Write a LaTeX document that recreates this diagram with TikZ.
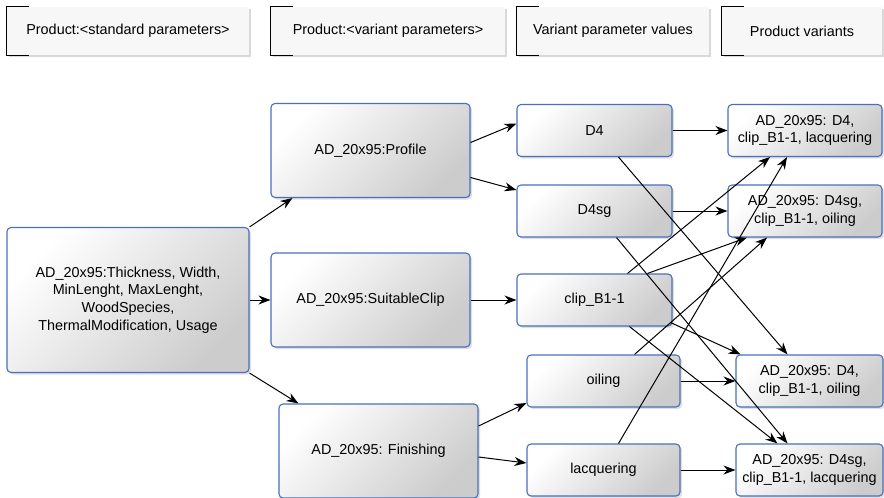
\documentclass[tikz,border=0pt]{standalone}
\usepackage{fontspec}
\setmainfont{Liberation Sans}
\usetikzlibrary{arrows.meta, shadows}
\definecolor{boxblue}{RGB}{72,112,190}
\tikzset{
  head/.style={fill=black!3, drop shadow={shadow xshift=2pt, shadow yshift=-2pt, opacity=0.3},
    minimum height=48pt, inner sep=2pt},
  box/.style={draw=boxblue, line width=1.1pt, rounded corners=4pt, top color=white,
    bottom color=black!20, shading angle=45, align=center, inner sep=2pt,
    drop shadow={shadow xshift=2pt, shadow yshift=-2pt, opacity=0.25}},
  mid/.style={box, minimum width=199pt, minimum height=94pt},
  val/.style={box, minimum width=155pt, minimum height=52pt},
  var/.style={box, minimum width=#1, minimum height=52pt},
  arr/.style={-{Stealth[length=12pt, width=9pt]}, line width=1pt},
}

\begin{document}
\begin{tikzpicture}[x=1pt, y=-1pt, font=\fontsize{14.4}{17.6}\selectfont]
    \useasboundingbox (0,0) rectangle (884,498);

    \node[head, minimum width=242pt] (h1) at (128,31) {Product:<standard parameters>};
    \node[head, minimum width=234pt] (h2) at (388,31) {Product:<variant parameters>};
    \node[head, minimum width=192pt] (h3) at (613,31) {Variant parameter values};
    \node[head, minimum width=160pt] (h4) at (802,31) {Product variants};
    \foreach \h in {h1,h2,h3,h4}
      \draw[line width=1.1pt] ([xshift=22pt]\h.north west) -- (\h.north west)
        -- (\h.south west) -- ([xshift=22pt]\h.south west);

    \node[box, minimum width=242pt, minimum height=145pt] (prod) at (128,300)
      {AD\_20x95:Thickness, Width,\\MinLenght, MaxLenght,\\WoodSpecies,\\ThermalModification, Usage};

    \node[mid] (prof) at (370.5,150.5) {AD\_20x95:Profile};
    \node[mid] (clip) at (370.5,300) {AD\_20x95:SuitableClip};
    \node[mid] (fin) at (378.5,451) {AD\_20x95: Finishing};

    \node[val] (d4) at (594.5,130.5) {D4};
    \node[val] (d4sg) at (594.5,211) {D4sg};
    \node[val] (clipv) at (594.5,300) {clip\_B1-1};
    \node[box, minimum width=153pt, minimum height=52pt] (oil) at (603.5,381) {oiling};
    \node[box, minimum width=153pt, minimum height=52pt] (lacq) at (603.5,470) {lacquering};

    \node[var=154pt] (v1) at (805,130.5) {AD\_20x95: D4,\\clip\_B1-1, lacquering};
    \node[var=154pt] (v2) at (805,211) {AD\_20x95: D4sg,\\clip\_B1-1, oiling};
    \node[var=147pt] (v3) at (809.5,381) {AD\_20x95: D4,\\clip\_B1-1, oiling};
    \node[var=147pt] (v4) at (809.5,470) {AD\_20x95: D4sg,\\clip\_B1-1, lacquering};

    \draw[arr] (prod.north east) -- ([xshift=22pt]prof.south west);
    \draw[arr] (prod.east) -- (clip.west);
    \draw[arr] (prod.south east) -- ([xshift=20pt]fin.north west);

    \draw[arr] ([yshift=8pt]prof.east) -- ([yshift=7pt]d4.west);
    \draw[arr] ([yshift=-27pt]prof.east) -- ([yshift=21pt]d4sg.west);
    \draw[arr] (clip.east) -- (clipv.west);
    \draw[arr] ([yshift=25pt]fin.east) -- ([yshift=-22pt]oil.west);
    \draw[arr] ([yshift=-6pt]fin.east) -- ([yshift=7pt]lacq.west);

    \draw[arr] (d4.east) -- (v1.west);
    \draw[arr] (d4sg.east) -- (v2.west);
    \draw[arr] (oil.east) -- (v3.west);
    \draw[arr] (lacq.east) -- (v4.west);

    \draw[arr] ([xshift=24pt]d4.south) -- ([xshift=-22pt]v3.north);
    \draw[arr] ([xshift=22pt]d4sg.south) -- ([xshift=-22pt]v4.north);
    \draw[arr] ([xshift=33pt]clipv.north) -- ([xshift=-35pt]v1.south);
    \draw[arr] ([xshift=53pt]clipv.north) -- ([xshift=-58pt]v2.south);
    \draw[arr] ([xshift=-2pt, yshift=4pt]clipv.south east) -- ([xshift=5pt]v3.north west);
    \draw[arr] ([xshift=35pt]clipv.south) -- ([xshift=-32pt]v4.north);
    \draw[arr] ([xshift=31pt]oil.north) -- ([xshift=-38pt]v2.south);
    \draw[arr] ([xshift=15pt]lacq.north) -- ([xshift=-18pt]v1.south);
\end{tikzpicture}
\end{document}
